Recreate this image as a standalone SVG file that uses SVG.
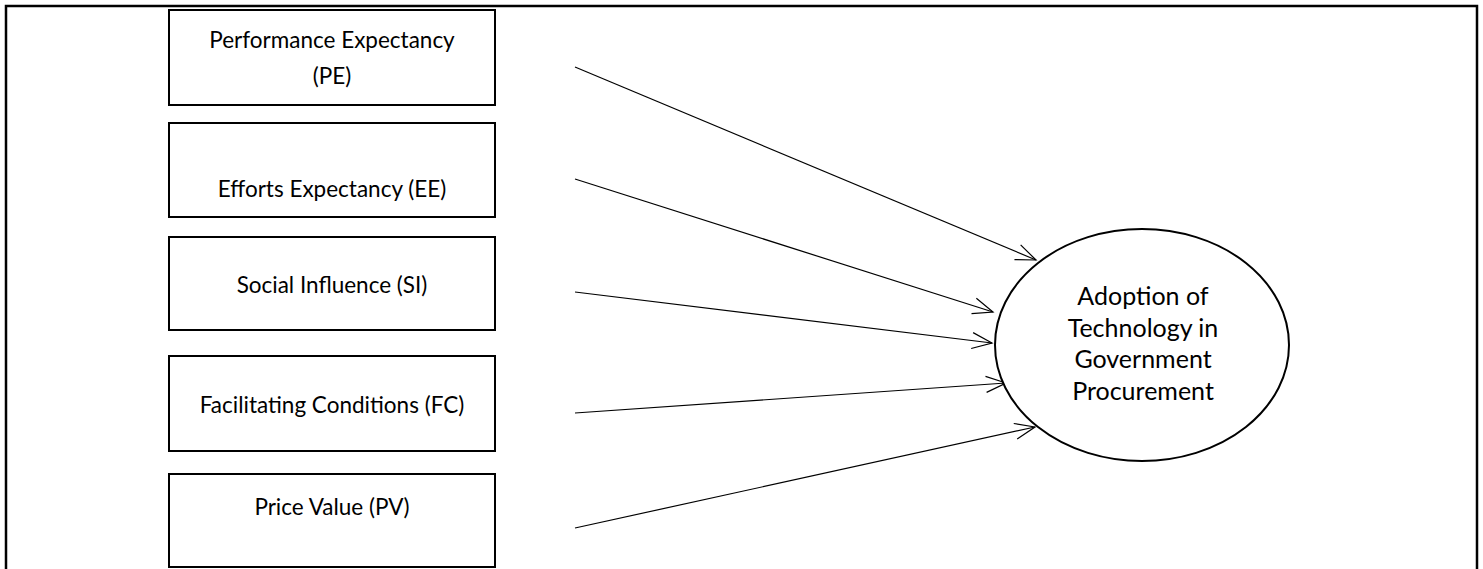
<svg xmlns="http://www.w3.org/2000/svg" width="1483" height="569" viewBox="0 0 1483 569">
<style>
.box{fill:#fff;stroke:#000;stroke-width:2}
.t{font-family:Lato,"Liberation Sans",sans-serif;font-size:22.5px;fill:#000;text-anchor:middle}
.e{font-size:25px}
.c{stroke:#000;stroke-width:1.2;fill:none;marker-end:url(#ah)}
</style>
<defs>
<marker id="ah" markerUnits="userSpaceOnUse" markerWidth="30" markerHeight="30" refX="22" refY="10" orient="auto" viewBox="0 0 30 20">
<path d="M2,2 L22,10 L2,18" fill="none" stroke="#000" stroke-width="1.2"/>
</marker>
</defs>
<rect width="1483" height="569" fill="#fff"/>
<path d="M6,569 L6,6 L1477,6 L1477,569" fill="none" stroke="#000" stroke-width="2.5"/>
<g id="connectors">
<line class="c" x1="575" y1="67" x2="1036" y2="260"/>
<line class="c" x1="575" y1="179" x2="993" y2="312"/>
<line class="c" x1="575" y1="292" x2="992" y2="343"/>
<line class="c" x1="575" y1="413" x2="1006" y2="383"/>
<line class="c" x1="575" y1="528" x2="1035" y2="427"/>
</g>
<g id="pe"><rect class="box" x="169" y="10" width="326" height="95"/><text class="t" x="332" y="48">Performance Expectancy</text><text class="t" x="332" y="84">(PE)</text></g>
<g id="ee"><rect class="box" x="169" y="123" width="326" height="94"/><text class="t" x="332" y="197">Efforts Expectancy (EE)</text></g>
<g id="si"><rect class="box" x="169" y="237" width="326" height="93"/><text class="t" x="332" y="293">Social Influence (SI)</text></g>
<g id="fc"><rect class="box" x="169" y="356" width="326" height="95"/><text class="t" x="332" y="413">Facilitating Conditions (FC)</text></g>
<g id="pv"><rect class="box" x="169" y="474" width="326" height="93"/><text class="t" x="332" y="515">Price Value (PV)</text></g>
<g id="adoption"><ellipse class="box" cx="1142" cy="345" rx="147" ry="116"/>
<text class="t e" x="1143" y="305">Adoption of</text>
<text class="t e" x="1143" y="337">Technology in</text>
<text class="t e" x="1143" y="368">Government</text>
<text class="t e" x="1143" y="400">Procurement</text></g>
</svg>
